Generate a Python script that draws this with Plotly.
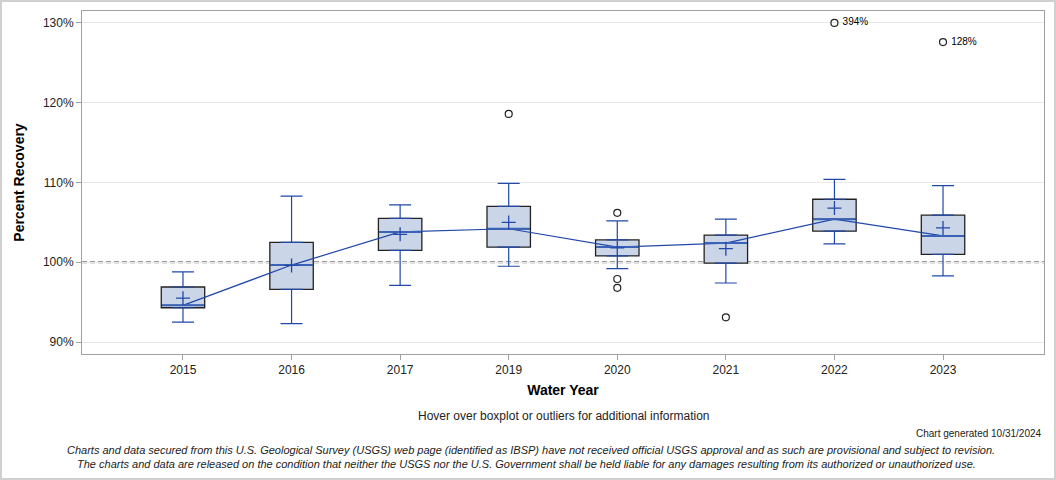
import plotly.graph_objects as go

years = ["2015", "2016", "2017", "2019", "2020", "2021", "2022", "2023"]
whisk_lo = [92.5, 92.3, 97.1, 99.5, 99.2, 97.4, 102.3, 98.3]
q1 = [94.3, 96.6, 101.5, 101.9, 100.8, 99.9, 103.9, 101.0]
median = [94.6, 99.65, 103.8, 104.2, 101.9, 102.4, 105.4, 103.3]
q3 = [96.9, 102.5, 105.5, 107.0, 102.8, 103.4, 107.9, 105.9]
whisk_hi = [98.8, 108.3, 107.2, 109.9, 105.2, 105.4, 110.4, 109.6]
mean = [95.5, 99.6, 103.5, 105.0, 101.8, 101.7, 106.8, 104.3]

out_year = ["2019", "2020", "2020", "2020", "2021", "2022", "2023"]
out_val = [118.6, 106.2, 97.9, 96.8, 93.1, 394.0, 127.6]
out_label = ["", "", "", "", "", " 394%", " 128%"]

Y_MAX = 130
BLUE = "#2148a8"
FILL = "#cad6e7"

fig = go.Figure()

# boxes (black outline)
fig.add_trace(go.Box(
    x=years, q1=q1, median=median, q3=q3,
    lowerfence=q1, upperfence=q3,
    fillcolor=FILL, line=dict(color="#222222", width=1.3),
    width=0.4, whiskerwidth=0, boxpoints=False, hoverinfo="skip",
    showlegend=False,
))

# whiskers (upper / lower) as error bars
fig.add_trace(go.Scatter(
    x=years, y=q3, mode="markers", marker=dict(size=0.1, color="rgba(0,0,0,0)"),
    error_y=dict(type="data", symmetric=False,
                 array=[h - t for h, t in zip(whisk_hi, q3)],
                 arrayminus=[0] * len(years),
                 color=BLUE, thickness=1.2, width=11),
    hoverinfo="skip", showlegend=False,
))
fig.add_trace(go.Scatter(
    x=years, y=q1, mode="markers", marker=dict(size=0.1, color="rgba(0,0,0,0)"),
    error_y=dict(type="data", symmetric=False,
                 array=[0] * len(years),
                 arrayminus=[b - l for b, l in zip(q1, whisk_lo)],
                 color=BLUE, thickness=1.2, width=11),
    hoverinfo="skip", showlegend=False,
))

# median line connecting boxes
fig.add_trace(go.Scatter(
    x=years, y=median, mode="lines", line=dict(color=BLUE, width=1.2),
    hoverinfo="skip", showlegend=False,
))
# median bars in blue
fig.add_trace(go.Scatter(
    x=years, y=median, mode="markers",
    marker=dict(symbol="line-ew", size=30, line=dict(color="#3a62b8", width=2)),
    hoverinfo="skip", showlegend=False,
))
# mean markers
fig.add_trace(go.Scatter(
    x=years, y=mean, mode="markers",
    marker=dict(symbol="cross-thin", size=10, line=dict(color=BLUE, width=1.3)),
    hoverinfo="skip", showlegend=False,
))
# outliers
fig.add_trace(go.Scatter(
    x=out_year, y=[min(v, Y_MAX) for v in out_val], mode="markers+text",
    text=out_label, textposition="middle right",
    textfont=dict(family="Liberation Sans, Arial", size=10, color="#000000"),
    marker=dict(symbol="circle-open", size=7, color="#222222", line=dict(width=1.2)),
    showlegend=False,
))

fig.update_layout(
    width=1056, height=480,
    margin=dict(l=82, r=12, t=11, b=126),
    paper_bgcolor="white", plot_bgcolor="white",
    font=dict(family="Liberation Sans, Arial", size=12, color="#333333"),
    xaxis=dict(
        type="category", range=[-0.93, 7.93], automargin=False,
        showgrid=False, showline=True, mirror=True, linecolor="#a0a0a0", linewidth=1,
        ticks="outside", ticklen=5, tickcolor="#a0a0a0",
        tickfont=dict(size=12, color="#222222"),
        title=dict(text="<b>Water Year</b>", font=dict(size=14, color="#000000"), standoff=8),
    ),
    yaxis=dict(
        range=[88.5, 131.5], tickvals=[90, 100, 110, 120, 130], automargin=False,
        ticktext=["90%", "100%", "110%", "120%", "130%"],
        showgrid=True, gridcolor="#e8e8e8", gridwidth=1, zeroline=False,
        showline=True, mirror=True, linecolor="#a0a0a0", linewidth=1,
        ticks="outside", ticklen=5, tickcolor="#a0a0a0",
        tickfont=dict(size=12, color="#222222"),
        title=dict(text="<b>Percent Recovery</b>", font=dict(size=14, color="#000000"), standoff=14),
    ),
    shapes=[
        dict(type="line", xref="paper", yref="y", x0=0, x1=1, y0=100, y1=100,
             line=dict(color="#777777", width=2, dash="5px,3px"), layer="between"),
        dict(type="rect", xref="paper", yref="paper",
             x0=-81 / 962, x1=1 + 11 / 962, y0=-125 / 343, y1=1 + 10 / 343,
             line=dict(color="#d0d0d0", width=2), fillcolor="rgba(0,0,0,0)", layer="below"),
    ],
    annotations=[
        dict(text="Hover over boxplot or outliers for additional information", xref="paper", yref="paper",
             x=0.5, y=-62 / 343, xanchor="center", yanchor="middle", showarrow=False,
             font=dict(size=12, color="#222222")),
        dict(text="Chart generated 10/31/2024", xref="paper", yref="paper",
             x=1, y=-80 / 343, xanchor="right", yanchor="middle", showarrow=False,
             font=dict(size=10, color="#222222")),
        dict(text="<i>Charts and data secured from this U.S. Geological Survey (USGS) web page (identified as IBSP) have not received official USGS approval and as such are provisional and subject to revision.</i>",
             xref="paper", yref="paper", x=(531 - 82) / 962, y=-96 / 343, xanchor="center", yanchor="middle",
             showarrow=False, font=dict(size=11, color="#222222")),
        dict(text="<i>The charts and data are released on the condition that neither the USGS nor the U.S. Government shall be held liable for any damages resulting from its authorized or unauthorized use.</i>",
             xref="paper", yref="paper", x=(526 - 82) / 962, y=-110 / 343, xanchor="center", yanchor="middle",
             showarrow=False, font=dict(size=11, color="#222222")),
    ],
)

fig.write_html("out.html", config={"displayModeBar": False},
               post_script="document.body.style.margin='0px';")
